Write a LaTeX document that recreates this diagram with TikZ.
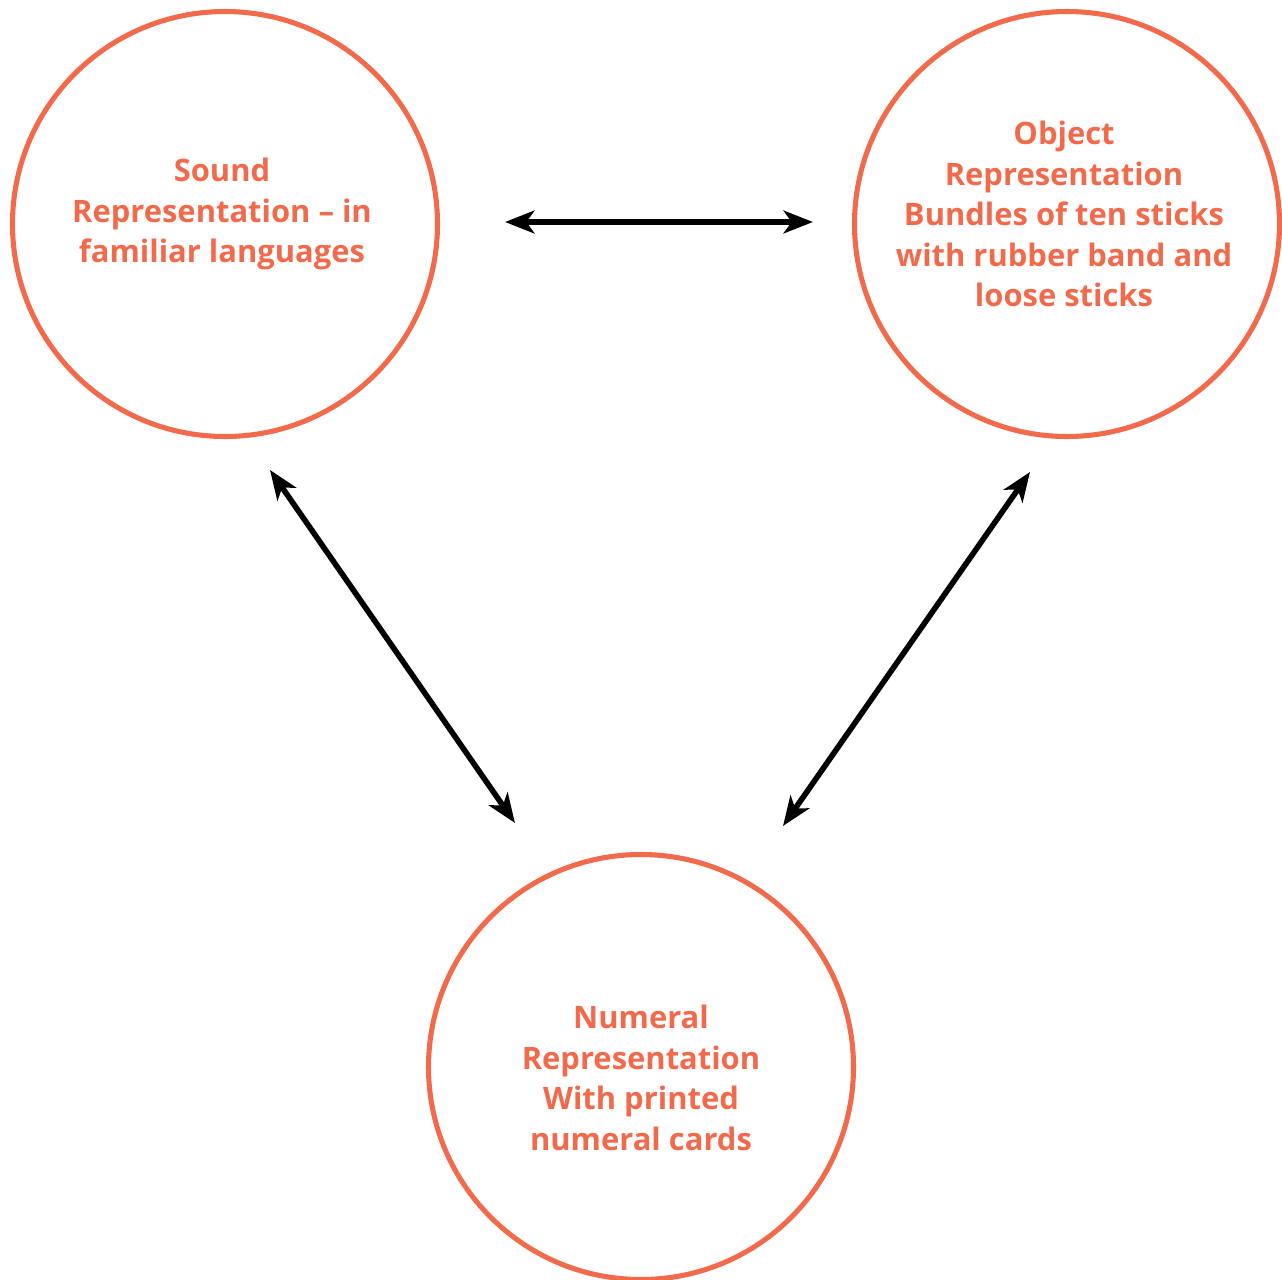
\documentclass[tikz,border=0pt]{standalone}
\usepackage{fontspec}
\setmainfont{Open Sans}
\usetikzlibrary{arrows.meta}
\usetikzlibrary{positioning}
\definecolor{circred}{HTML}{F26A4C}
\tikzset{repcircle/.style = {circle, draw = circred, line width = 3.8pt,
                             minimum size = 425*0.75pt, inner sep = 0pt},
         reptext/.style = {text = circred, align = center,
                           font = \fontsize{23.2}{30.4}\selectfont\bfseries},
         biarrow/.style = {line width = 4.2pt,
                           {Stealth[length = 22pt, width = 17pt, inset = 6pt]}-{Stealth[length = 22pt, width = 17pt, inset = 6pt]}}}

\begin{document}
\begin{tikzpicture}[x=0.75pt, y=-0.75pt]
     \useasboundingbox (0, 0) rectangle (1282, 1279);
     \node [repcircle] (sound) at (225, 224) {};
     \node [repcircle] (object) at (1067, 224) {};
     \node [repcircle] (numeral) at (641, 1067) {};
     \node [reptext] (soundtxt) at (222, 214) {Sound\\Representation – in\\familiar languages};
     \node [reptext] (objecttxt) at (1064, 214) {Object\\Representation\\Bundles of ten sticks\\with rubber band and\\loose sticks};
     \node [reptext] (numeraltxt) at (641, 1078) {Numeral\\Representation\\With printed\\numeral cards};
     \coordinate (soundE) at (505, 222);
     \coordinate (objectW) at (813, 222);
     \coordinate (soundS) at (270, 470);
     \coordinate (numeralNW) at (515, 823);
     \coordinate (objectS) at (1030, 472);
     \coordinate (numeralNE) at (783, 826);
     \draw [biarrow] (soundE) -- (objectW);
     \draw [biarrow] (soundS) -- (numeralNW);
     \draw [biarrow] (objectS) -- (numeralNE);
    \end{tikzpicture}
\end{document}
